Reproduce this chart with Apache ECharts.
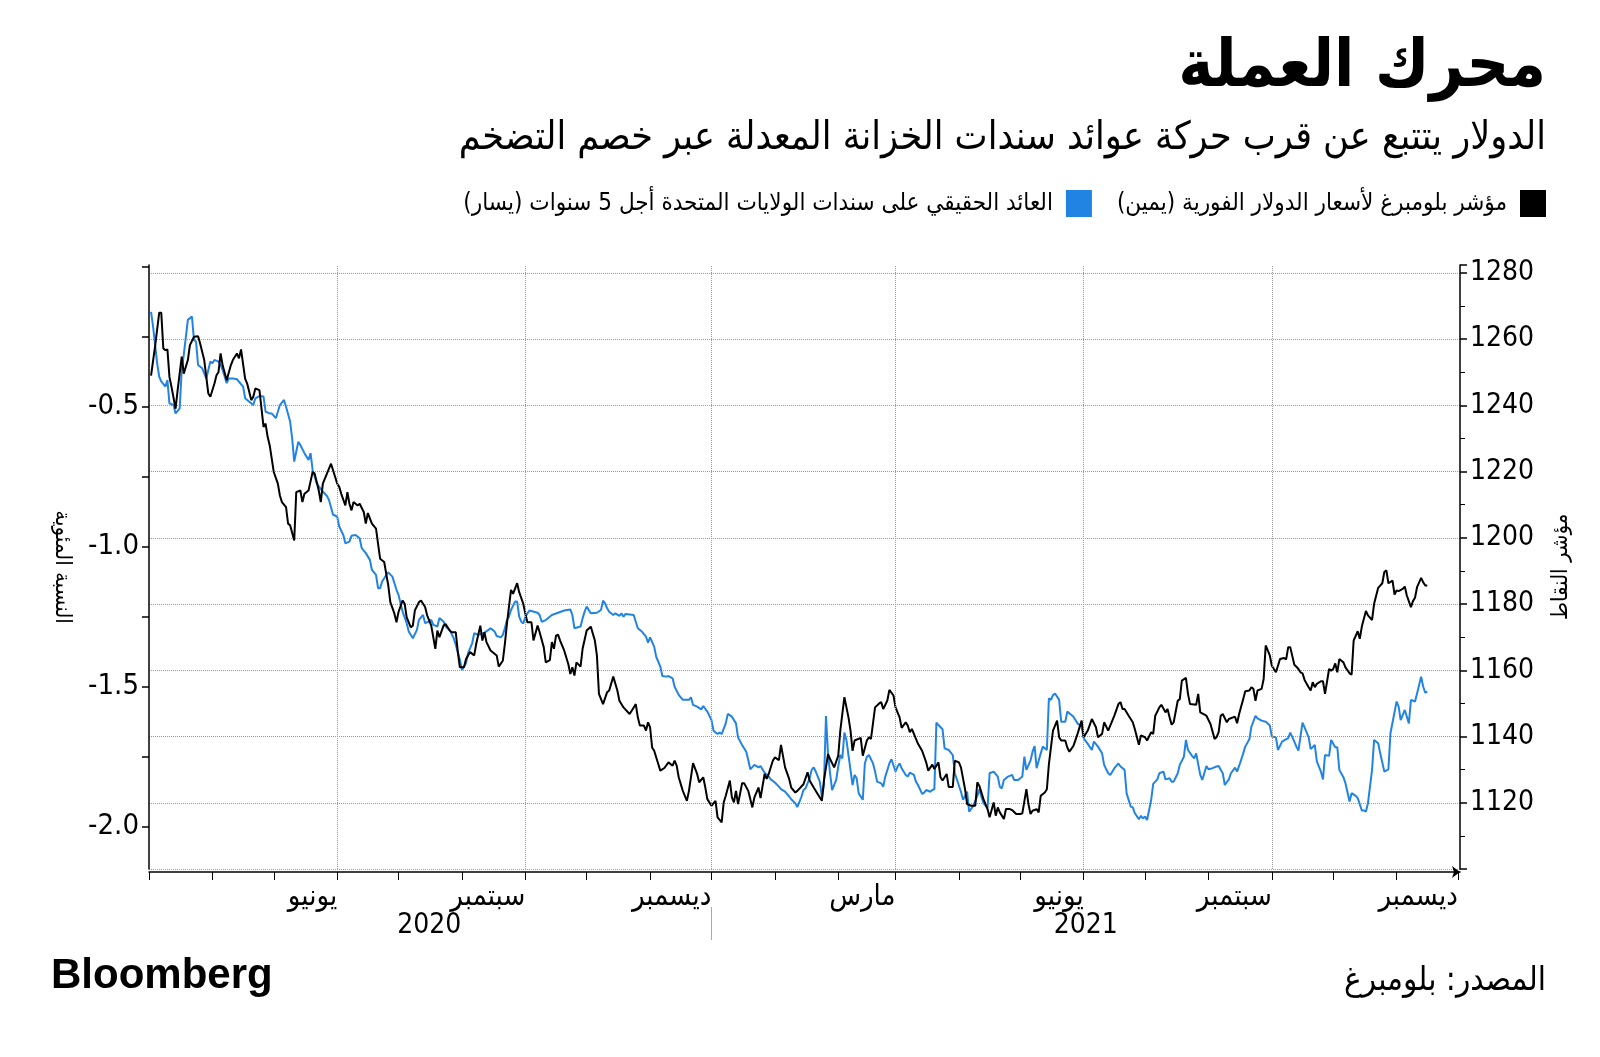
<!DOCTYPE html>
<html lang="ar">
<head>
<meta charset="utf-8">
<title>محرك العملة</title>
<script src="https://cdn.jsdelivr.net/npm/echarts@6/dist/echarts.min.js"></script>
<style>
  html, body { margin: 0; padding: 0; background: #fff; }
  #chart { width: 1600px; height: 1057px; }
</style>
</head>
<body>
<div id="chart"></div>
<script>
// خطوط
var arFont = "'DejaVu Sans Condensed', 'DejaVu Sans', sans-serif";
var RLM = '\u200F';

// النصوص
var chartTitle = 'محرك العملة';
var chartSubtitle = 'الدولار يتتبع عن قرب حركة عوائد سندات الخزانة المعدلة عبر خصم التضخم';
var dollarName = 'مؤشر بلومبرغ لأسعار الدولار الفورية (يمين)';
var yieldName = 'العائد الحقيقي على سندات الولايات المتحدة أجل 5 سنوات (يسار)';
var leftAxisName = 'النسبة المئوية';
var rightAxisName = 'مؤشر النقاط';
var sourceText = 'المصدر: بلومبرغ';

// المحور الأفقي
var xStart = '2020-03-01';
var xEnd = '2021-12-02';
var monthNames = ['يناير', 'فبراير', 'مارس', 'أبريل', 'مايو', 'يونيو', 'يوليو', 'أغسطس', 'سبتمبر', 'أكتوبر', 'نوفمبر', 'ديسمبر'];
var monthTicks = ['2020-03-01', '2020-04-01', '2020-05-01', '2020-06-01', '2020-07-01', '2020-08-01', '2020-09-01',
  '2020-10-01', '2020-11-01', '2020-12-01', '2021-01-01', '2021-02-01', '2021-03-01', '2021-04-01', '2021-05-01',
  '2021-06-01', '2021-07-01', '2021-08-01', '2021-09-01', '2021-10-01', '2021-11-01', '2021-12-01'];
var quarterLabels = ['2020-06-01', '2020-09-01', '2020-12-01', '2021-03-01', '2021-06-01', '2021-09-01', '2021-12-01'];
var gridDates = ['2020-06-01', '2020-09-01', '2020-12-01', '2021-03-01', '2021-06-01', '2021-09-01'];
var yearLabels = ['2020', '2021'];
var yearLabelDates = ['2020-07-16', '2021-06-02'];
var yearSplit = ['2020-12-01'];

// المحاور الرأسية
var leftTicks = [-2, -1.75, -1.5, -1.25, -1, -0.75, -0.5, -0.25, 0];
var leftLabels = [-2, -1.5, -1, -0.5];

// مؤشر بلومبرغ للدولار (يمين)
var dollarIndex = [
  ['2020-03-02', 1249], ['2020-03-04', 1258], ['2020-03-06', 1268], ['2020-03-07', 1268], ['2020-03-08', 1257.2],
  ['2020-03-09', 1256.7], ['2020-03-10', 1256.9], ['2020-03-11', 1248.6], ['2020-03-12', 1245.6], ['2020-03-14', 1239.0],
  ['2020-03-15', 1244.6], ['2020-03-17', 1254.7], ['2020-03-18', 1249.6], ['2020-03-20', 1253.7], ['2020-03-21', 1258.2],
  ['2020-03-23', 1260.7], ['2020-03-25', 1260.9], ['2020-03-26', 1258.7], ['2020-03-28', 1253.7], ['2020-03-29', 1248.6],
  ['2020-03-30', 1243.6], ['2020-03-31', 1242.6], ['2020-04-02', 1246.6], ['2020-04-03', 1249.1], ['2020-04-04', 1250.1],
  ['2020-04-05', 1255.7], ['2020-04-06', 1252.1], ['2020-04-08', 1247.6], ['2020-04-10', 1252.1], ['2020-04-11', 1253.7],
  ['2020-04-13', 1255.7], ['2020-04-14', 1254.2], ['2020-04-15', 1256.9], ['2020-04-17', 1248.1], ['2020-04-18', 1246.6],
  ['2020-04-20', 1241.6], ['2020-04-21', 1242.6], ['2020-04-22', 1245.1], ['2020-04-24', 1244.6], ['2020-04-26', 1233.5],
  ['2020-04-27', 1234.5], ['2020-04-28', 1230.5], ['2020-04-29', 1228.0], ['2020-05-01', 1219.9], ['2020-05-03', 1216.4],
  ['2020-05-04', 1212.8], ['2020-05-05', 1210.8], ['2020-05-07', 1209.3], ['2020-05-08', 1204.3], ['2020-05-09', 1203.8],
  ['2020-05-11', 1199.2], ['2020-05-12', 1213.8], ['2020-05-14', 1214.3], ['2020-05-15', 1210.8], ['2020-05-16', 1213.3],
  ['2020-05-18', 1214.3], ['2020-05-20', 1219.9], ['2020-05-21', 1219.4], ['2020-05-23', 1214.3], ['2020-05-24', 1210.8],
  ['2020-05-25', 1216.4], ['2020-05-26', 1217.9], ['2020-05-28', 1220.9], ['2020-05-29', 1222.4], ['2020-05-30', 1220.4],
  ['2020-06-01', 1216.4], ['2020-06-02', 1215.4], ['2020-06-03', 1213.3], ['2020-06-05', 1209.8], ['2020-06-06', 1213.8],
  ['2020-06-07', 1210.3], ['2020-06-08', 1208.3], ['2020-06-09', 1210.8], ['2020-06-11', 1209.8], ['2020-06-12', 1210.3],
  ['2020-06-14', 1207.8], ['2020-06-15', 1204.3], ['2020-06-16', 1207.5], ['2020-06-18', 1204.3], ['2020-06-20', 1202.8],
  ['2020-06-21', 1198.2], ['2020-06-22', 1193.7], ['2020-06-24', 1192.7], ['2020-06-25', 1189.1], ['2020-06-26', 1185.6],
  ['2020-06-27', 1180.6], ['2020-06-29', 1177.1], ['2020-06-30', 1174.5], ['2020-07-01', 1177.6], ['2020-07-03', 1181.1],
  ['2020-07-04', 1180.1], ['2020-07-05', 1176.0], ['2020-07-07', 1173.0], ['2020-07-08', 1173.5], ['2020-07-09', 1178.1],
  ['2020-07-11', 1180.6], ['2020-07-12', 1181.1], ['2020-07-14', 1179.1], ['2020-07-15', 1176.6], ['2020-07-17', 1173.5],
  ['2020-07-19', 1166.5], ['2020-07-20', 1172.0], ['2020-07-21', 1170.0], ['2020-07-23', 1173.5], ['2020-07-24', 1174.0],
  ['2020-07-26', 1172.0], ['2020-07-27', 1171.5], ['2020-07-29', 1171.5], ['2020-07-30', 1165.5], ['2020-07-31', 1160.9],
  ['2020-08-02', 1160.9], ['2020-08-03', 1163.4], ['2020-08-05', 1165.5], ['2020-08-07', 1164.5], ['2020-08-08', 1168.0],
  ['2020-08-10', 1173.5], ['2020-08-11', 1169.0], ['2020-08-12', 1171.5], ['2020-08-13', 1168.5], ['2020-08-15', 1166.0],
  ['2020-08-18', 1164.5], ['2020-08-19', 1161.1], ['2020-08-21', 1162.9], ['2020-08-22', 1168.0], ['2020-08-23', 1174.0],
  ['2020-08-25', 1184.3], ['2020-08-26', 1183.1], ['2020-08-28', 1186.3], ['2020-08-29', 1183.6], ['2020-08-31', 1180.1],
  ['2020-09-01', 1177.1], ['2020-09-02', 1174.5], ['2020-09-04', 1174.5], ['2020-09-05', 1169.0], ['2020-09-07', 1173.5],
  ['2020-09-08', 1171.5], ['2020-09-10', 1167.0], ['2020-09-11', 1162.4], ['2020-09-13', 1163.1], ['2020-09-14', 1168.5],
  ['2020-09-15', 1166.5], ['2020-09-16', 1170.5], ['2020-09-17', 1170.8], ['2020-09-18', 1169.0], ['2020-09-20', 1166.0],
  ['2020-09-22', 1161.9], ['2020-09-23', 1158.9], ['2020-09-24', 1160.9], ['2020-09-25', 1158.4], ['2020-09-26', 1162.4],
  ['2020-09-28', 1161.1], ['2020-09-29', 1166.5], ['2020-10-01', 1172.0], ['2020-10-03', 1173.2], ['2020-10-05', 1169.0],
  ['2020-10-06', 1164.5], ['2020-10-07', 1152.9], ['2020-10-09', 1149.8], ['2020-10-11', 1153.4], ['2020-10-12', 1153.9],
  ['2020-10-14', 1158.1], ['2020-10-16', 1153.9], ['2020-10-17', 1150.8], ['2020-10-19', 1148.8], ['2020-10-22', 1146.8],
  ['2020-10-24', 1148.8], ['2020-10-25', 1149.8], ['2020-10-26', 1145.8], ['2020-10-27', 1143.3], ['2020-10-29', 1143.3],
  ['2020-10-30', 1141.8], ['2020-10-31', 1144.3], ['2020-11-01', 1142.8], ['2020-11-02', 1136.7], ['2020-11-03', 1135.7],
  ['2020-11-05', 1131.7], ['2020-11-06', 1129.7], ['2020-11-08', 1130.5], ['2020-11-10', 1132.2], ['2020-11-12', 1131.2],
  ['2020-11-13', 1132.7], ['2020-11-14', 1131.2], ['2020-11-15', 1127.7], ['2020-11-17', 1123.6], ['2020-11-19', 1120.6],
  ['2020-11-20', 1123.6], ['2020-11-22', 1132.0], ['2020-11-24', 1128.7], ['2020-11-25', 1126.2], ['2020-11-27', 1127.7],
  ['2020-11-28', 1124.6], ['2020-11-29', 1121.1], ['2020-12-01', 1119.1], ['2020-12-03', 1120.6], ['2020-12-04', 1115.6],
  ['2020-12-06', 1114.1], ['2020-12-07', 1120.1], ['2020-12-08', 1122.1], ['2020-12-10', 1126.7], ['2020-12-11', 1121.6],
  ['2020-12-12', 1120.1], ['2020-12-13', 1123.6], ['2020-12-14', 1119.6], ['2020-12-16', 1125.9], ['2020-12-17', 1125.9],
  ['2020-12-19', 1123.6], ['2020-12-21', 1118.6], ['2020-12-22', 1121.6], ['2020-12-24', 1124.6], ['2020-12-25', 1121.4],
  ['2020-12-27', 1128.7], ['2020-12-28', 1127.2], ['2020-12-29', 1128.7], ['2020-12-31', 1132.7], ['2021-01-01', 1133.7],
  ['2021-01-03', 1132.9], ['2021-01-04', 1137.5], ['2021-01-06', 1130.7], ['2021-01-08', 1127.2], ['2021-01-09', 1124.6],
  ['2021-01-11', 1123.1], ['2021-01-12', 1123.6], ['2021-01-15', 1125.6], ['2021-01-17', 1129.2], ['2021-01-18', 1126.7],
  ['2021-01-20', 1124.6], ['2021-01-22', 1122.6], ['2021-01-24', 1120.6], ['2021-01-25', 1126.7], ['2021-01-27', 1134.7],
  ['2021-01-28', 1133.2], ['2021-01-30', 1130.7], ['2021-02-01', 1134.2], ['2021-02-02', 1141.8], ['2021-02-04', 1151.9],
  ['2021-02-06', 1145.8], ['2021-02-07', 1141.8], ['2021-02-08', 1135.7], ['2021-02-09', 1138.8], ['2021-02-12', 1139.6],
  ['2021-02-13', 1134.2], ['2021-02-15', 1138.8], ['2021-02-16', 1139.8], ['2021-02-17', 1139.3], ['2021-02-19', 1148.8],
  ['2021-02-21', 1150.0], ['2021-02-22', 1150.4], ['2021-02-23', 1148.3], ['2021-02-25', 1150.9], ['2021-02-26', 1154.1],
  ['2021-02-28', 1152.4], ['2021-03-01', 1148.8], ['2021-03-03', 1145.8], ['2021-03-04', 1142.6], ['2021-03-06', 1144.3],
  ['2021-03-07', 1143.3], ['2021-03-08', 1141.3], ['2021-03-09', 1142.3], ['2021-03-10', 1140.8], ['2021-03-12', 1137.8],
  ['2021-03-14', 1135.7], ['2021-03-16', 1132.2], ['2021-03-17', 1129.7], ['2021-03-19', 1131.5], ['2021-03-20', 1130.2],
  ['2021-03-22', 1132.2], ['2021-03-23', 1127.7], ['2021-03-24', 1126.7], ['2021-03-26', 1128.7], ['2021-03-27', 1124.8],
  ['2021-03-29', 1124.8], ['2021-03-30', 1132.7], ['2021-04-01', 1132.2], ['2021-04-02', 1130.7], ['2021-04-04', 1124.1],
  ['2021-04-05', 1119.6], ['2021-04-07', 1119.1], ['2021-04-09', 1119.1], ['2021-04-10', 1126.2], ['2021-04-11', 1125.1],
  ['2021-04-13', 1121.1], ['2021-04-14', 1119.6], ['2021-04-15', 1118.1], ['2021-04-16', 1115.6], ['2021-04-18', 1120.1],
  ['2021-04-19', 1116.1], ['2021-04-20', 1118.6], ['2021-04-21', 1117.1], ['2021-04-23', 1115.1], ['2021-04-24', 1118.1],
  ['2021-04-26', 1118.1], ['2021-04-27', 1117.8], ['2021-04-29', 1116.6], ['2021-05-01', 1116.6], ['2021-05-02', 1116.8],
  ['2021-05-04', 1124.1], ['2021-05-05', 1119.6], ['2021-05-06', 1116.6], ['2021-05-07', 1117.6], ['2021-05-09', 1118.1],
  ['2021-05-10', 1117.1], ['2021-05-11', 1122.1], ['2021-05-13', 1123.1], ['2021-05-14', 1124.1], ['2021-05-15', 1131.7],
  ['2021-05-17', 1141.8], ['2021-05-19', 1144.8], ['2021-05-20', 1139.8], ['2021-05-21', 1138.8], ['2021-05-23', 1138.8],
  ['2021-05-24', 1136.7], ['2021-05-25', 1135.4], ['2021-05-27', 1137.2], ['2021-05-29', 1140.8], ['2021-05-31', 1144.8],
  ['2021-06-01', 1139.8], ['2021-06-03', 1141.8], ['2021-06-05', 1145.3], ['2021-06-07', 1142.8], ['2021-06-08', 1139.8],
  ['2021-06-10', 1140.8], ['2021-06-11', 1144.3], ['2021-06-13', 1141.8], ['2021-06-15', 1144.8], ['2021-06-16', 1146.3],
  ['2021-06-18', 1149.8], ['2021-06-19', 1150.4], ['2021-06-20', 1148.3], ['2021-06-21', 1148.3], ['2021-06-23', 1146.3],
  ['2021-06-25', 1144.3], ['2021-06-26', 1142.3], ['2021-06-28', 1137.5], ['2021-06-29', 1140.3], ['2021-07-01', 1139.8],
  ['2021-07-02', 1138.8], ['2021-07-04', 1141.3], ['2021-07-05', 1140.8], ['2021-07-06', 1146.3], ['2021-07-08', 1148.8],
  ['2021-07-09', 1149.6], ['2021-07-11', 1147.3], ['2021-07-12', 1148.3], ['2021-07-13', 1145.8], ['2021-07-14', 1143.6],
  ['2021-07-15', 1144.3], ['2021-07-17', 1150.8], ['2021-07-18', 1151.3], ['2021-07-19', 1156.9], ['2021-07-21', 1157.7],
  ['2021-07-22', 1152.9], ['2021-07-23', 1149.8], ['2021-07-26', 1149.6], ['2021-07-27', 1152.9], ['2021-07-28', 1147.3],
  ['2021-07-31', 1146.3], ['2021-08-02', 1143.8], ['2021-08-04', 1139.3], ['2021-08-05', 1139.8], ['2021-08-06', 1141.3],
  ['2021-08-07', 1146.3], ['2021-08-08', 1146.8], ['2021-08-10', 1144.3], ['2021-08-11', 1145.3], ['2021-08-14', 1146.0],
  ['2021-08-15', 1144.0], ['2021-08-16', 1146.8], ['2021-08-18', 1151.3], ['2021-08-19', 1153.7], ['2021-08-21', 1153.9],
  ['2021-08-22', 1154.9], ['2021-08-23', 1154.4], ['2021-08-24', 1150.8], ['2021-08-25', 1153.9], ['2021-08-27', 1154.4],
  ['2021-08-28', 1157.4], ['2021-08-29', 1167.5], ['2021-08-31', 1164.5], ['2021-09-01', 1161.4], ['2021-09-03', 1159.4],
  ['2021-09-04', 1161.4], ['2021-09-05', 1163.4], ['2021-09-07', 1163.7], ['2021-09-08', 1163.3], ['2021-09-09', 1167.0],
  ['2021-09-10', 1167.0], ['2021-09-12', 1161.7], ['2021-09-13', 1161.1], ['2021-09-14', 1160.4], ['2021-09-15', 1159.4],
  ['2021-09-16', 1159.1], ['2021-09-17', 1157.1], ['2021-09-19', 1154.9], ['2021-09-20', 1153.9], ['2021-09-21', 1156.4],
  ['2021-09-22', 1154.9], ['2021-09-23', 1155.9], ['2021-09-25', 1156.7], ['2021-09-26', 1156.7], ['2021-09-27', 1152.9],
  ['2021-09-29', 1160.4], ['2021-09-30', 1159.9], ['2021-10-01', 1160.4], ['2021-10-02', 1162.1], ['2021-10-03', 1159.4],
  ['2021-10-04', 1163.4], ['2021-10-06', 1162.4], ['2021-10-07', 1160.9], ['2021-10-09', 1159.1], ['2021-10-10', 1158.7],
  ['2021-10-11', 1169.0], ['2021-10-13', 1171.8], ['2021-10-14', 1169.5], ['2021-10-15', 1173.2], ['2021-10-17', 1177.9],
  ['2021-10-18', 1176.6], ['2021-10-20', 1175.2], ['2021-10-21', 1180.1], ['2021-10-23', 1184.9], ['2021-10-24', 1185.6],
  ['2021-10-25', 1186.3], ['2021-10-26', 1189.7], ['2021-10-27', 1190.2], ['2021-10-28', 1186.3], ['2021-10-30', 1187.1],
  ['2021-10-31', 1182.9], ['2021-11-01', 1184.1], ['2021-11-02', 1183.9], ['2021-11-04', 1184.6], ['2021-11-05', 1185.3],
  ['2021-11-06', 1182.6], ['2021-11-08', 1179.1], ['2021-11-09', 1180.9], ['2021-11-10', 1181.9], ['2021-11-11', 1185.1],
  ['2021-11-13', 1187.9], ['2021-11-14', 1186.6], ['2021-11-15', 1185.6], ['2021-11-16', 1185.6]
];

// العائد الحقيقي لسندات 5 سنوات (يسار)
var realYield5y = [
  ['2020-03-02', -0.161], ['2020-03-03', -0.214], ['2020-03-05', -0.345], ['2020-03-06', -0.393], ['2020-03-07', -0.410],
  ['2020-03-09', -0.428], ['2020-03-10', -0.405], ['2020-03-11', -0.488], ['2020-03-13', -0.494], ['2020-03-14', -0.524],
  ['2020-03-16', -0.506], ['2020-03-17', -0.369], ['2020-03-18', -0.315], ['2020-03-20', -0.190], ['2020-03-22', -0.178],
  ['2020-03-23', -0.262], ['2020-03-24', -0.268], ['2020-03-25', -0.351], ['2020-03-27', -0.363], ['2020-03-29', -0.399],
  ['2020-03-31', -0.339], ['2020-04-01', -0.345], ['2020-04-02', -0.333], ['2020-04-04', -0.339], ['2020-04-05', -0.351],
  ['2020-04-06', -0.369], ['2020-04-08', -0.416], ['2020-04-09', -0.399], ['2020-04-11', -0.399], ['2020-04-13', -0.402],
  ['2020-04-16', -0.428], ['2020-04-17', -0.470], ['2020-04-19', -0.482], ['2020-04-21', -0.494], ['2020-04-22', -0.470],
  ['2020-04-24', -0.462], ['2020-04-26', -0.464], ['2020-04-27', -0.518], ['2020-04-29', -0.524], ['2020-04-30', -0.524],
  ['2020-05-02', -0.541], ['2020-05-03', -0.518], ['2020-05-04', -0.494], ['2020-05-06', -0.476], ['2020-05-07', -0.500],
  ['2020-05-09', -0.553], ['2020-05-10', -0.613], ['2020-05-11', -0.696], ['2020-05-13', -0.625], ['2020-05-14', -0.637],
  ['2020-05-16', -0.666], ['2020-05-18', -0.690], ['2020-05-19', -0.666], ['2020-05-20', -0.726], ['2020-05-22', -0.773],
  ['2020-05-23', -0.785], ['2020-05-25', -0.803], ['2020-05-27', -0.819], ['2020-05-28', -0.833], ['2020-05-30', -0.886],
  ['2020-06-01', -0.892], ['2020-06-02', -0.928], ['2020-06-04', -0.958], ['2020-06-05', -0.988], ['2020-06-07', -0.982],
  ['2020-06-08', -0.961], ['2020-06-10', -0.958], ['2020-06-12', -0.970], ['2020-06-13', -1.005], ['2020-06-15', -1.023],
  ['2020-06-17', -1.047], ['2020-06-18', -1.083], ['2020-06-20', -1.101], ['2020-06-21', -1.148], ['2020-06-22', -1.148],
  ['2020-06-23', -1.124], ['2020-06-25', -1.101], ['2020-06-26', -1.092], ['2020-06-28', -1.107], ['2020-06-30', -1.154],
  ['2020-07-01', -1.172], ['2020-07-03', -1.232], ['2020-07-05', -1.273], ['2020-07-06', -1.303], ['2020-07-08', -1.327],
  ['2020-07-10', -1.297], ['2020-07-11', -1.261], ['2020-07-13', -1.244], ['2020-07-14', -1.273], ['2020-07-16', -1.267],
  ['2020-07-17', -1.261], ['2020-07-18', -1.279], ['2020-07-20', -1.285], ['2020-07-21', -1.255], ['2020-07-23', -1.267],
  ['2020-07-24', -1.285], ['2020-07-26', -1.297], ['2020-07-28', -1.327], ['2020-07-29', -1.351], ['2020-07-31', -1.404],
  ['2020-08-01', -1.440], ['2020-08-03', -1.416], ['2020-08-04', -1.380], ['2020-08-06', -1.345], ['2020-08-07', -1.309],
  ['2020-08-09', -1.315], ['2020-08-12', -1.307], ['2020-08-14', -1.297], ['2020-08-15', -1.291], ['2020-08-17', -1.303],
  ['2020-08-18', -1.319], ['2020-08-20', -1.324], ['2020-08-21', -1.315], ['2020-08-22', -1.291], ['2020-08-23', -1.262],
  ['2020-08-24', -1.250], ['2020-08-25', -1.226], ['2020-08-27', -1.196], ['2020-08-28', -1.196], ['2020-08-29', -1.250],
  ['2020-08-30', -1.268], ['2020-08-31', -1.274], ['2020-09-01', -1.252], ['2020-09-02', -1.238], ['2020-09-03', -1.228],
  ['2020-09-07', -1.236], ['2020-09-08', -1.244], ['2020-09-09', -1.268], ['2020-09-11', -1.262], ['2020-09-14', -1.244],
  ['2020-09-17', -1.236], ['2020-09-20', -1.228], ['2020-09-23', -1.224], ['2020-09-24', -1.244], ['2020-09-25', -1.291],
  ['2020-09-28', -1.285], ['2020-09-29', -1.256], ['2020-09-30', -1.232], ['2020-10-01', -1.214], ['2020-10-03', -1.238],
  ['2020-10-06', -1.236], ['2020-10-08', -1.226], ['2020-10-09', -1.193], ['2020-10-10', -1.202], ['2020-10-11', -1.220],
  ['2020-10-12', -1.232], ['2020-10-14', -1.244], ['2020-10-15', -1.238], ['2020-10-17', -1.247], ['2020-10-18', -1.238],
  ['2020-10-19', -1.250], ['2020-10-20', -1.240], ['2020-10-24', -1.244], ['2020-10-25', -1.268], ['2020-10-26', -1.291],
  ['2020-10-28', -1.303], ['2020-10-30', -1.321], ['2020-10-31', -1.343], ['2020-11-01', -1.324], ['2020-11-03', -1.357],
  ['2020-11-04', -1.393], ['2020-11-06', -1.428], ['2020-11-07', -1.462], ['2020-11-09', -1.464], ['2020-11-10', -1.462],
  ['2020-11-12', -1.470], ['2020-11-13', -1.500], ['2020-11-15', -1.529], ['2020-11-17', -1.547], ['2020-11-20', -1.547],
  ['2020-11-21', -1.538], ['2020-11-22', -1.565], ['2020-11-24', -1.571], ['2020-11-26', -1.581], ['2020-11-27', -1.569],
  ['2020-11-29', -1.589], ['2020-12-01', -1.619], ['2020-12-02', -1.657], ['2020-12-04', -1.669], ['2020-12-05', -1.664],
  ['2020-12-06', -1.669], ['2020-12-08', -1.631], ['2020-12-09', -1.597], ['2020-12-11', -1.607], ['2020-12-13', -1.631],
  ['2020-12-14', -1.681], ['2020-12-16', -1.708], ['2020-12-18', -1.732], ['2020-12-19', -1.762], ['2020-12-20', -1.795],
  ['2020-12-22', -1.779], ['2020-12-24', -1.788], ['2020-12-25', -1.783], ['2020-12-27', -1.807], ['2020-12-29', -1.821],
  ['2020-12-30', -1.831], ['2021-01-01', -1.842], ['2021-01-03', -1.857], ['2021-01-04', -1.866], ['2021-01-06', -1.875],
  ['2021-01-08', -1.892], ['2021-01-09', -1.902], ['2021-01-11', -1.916], ['2021-01-12', -1.930], ['2021-01-14', -1.893],
  ['2021-01-15', -1.869], ['2021-01-16', -1.863], ['2021-01-18', -1.827], ['2021-01-19', -1.797], ['2021-01-20', -1.788],
  ['2021-01-21', -1.803], ['2021-01-23', -1.839], ['2021-01-24', -1.893], ['2021-01-25', -1.851], ['2021-01-26', -1.605],
  ['2021-01-27', -1.738], ['2021-01-28', -1.809], ['2021-01-29', -1.869], ['2021-01-31', -1.833], ['2021-02-01', -1.785],
  ['2021-02-02', -1.744], ['2021-02-03', -1.756], ['2021-02-04', -1.664], ['2021-02-05', -1.690], ['2021-02-06', -1.744],
  ['2021-02-08', -1.851], ['2021-02-09', -1.815], ['2021-02-10', -1.827], ['2021-02-11', -1.881], ['2021-02-13', -1.904],
  ['2021-02-14', -1.774], ['2021-02-15', -1.750], ['2021-02-16', -1.744], ['2021-02-18', -1.774], ['2021-02-19', -1.803],
  ['2021-02-20', -1.839], ['2021-02-22', -1.845], ['2021-02-23', -1.857], ['2021-02-24', -1.821], ['2021-02-26', -1.774],
  ['2021-02-27', -1.759], ['2021-03-01', -1.803], ['2021-03-02', -1.785], ['2021-03-03', -1.774], ['2021-03-04', -1.791],
  ['2021-03-06', -1.815], ['2021-03-07', -1.821], ['2021-03-08', -1.807], ['2021-03-10', -1.815], ['2021-03-11', -1.839],
  ['2021-03-12', -1.851], ['2021-03-14', -1.883], ['2021-03-15', -1.878], ['2021-03-16', -1.869], ['2021-03-18', -1.875],
  ['2021-03-19', -1.869], ['2021-03-20', -1.866], ['2021-03-21', -1.628], ['2021-03-22', -1.637], ['2021-03-24', -1.652],
  ['2021-03-25', -1.720], ['2021-03-27', -1.726], ['2021-03-29', -1.744], ['2021-03-30', -1.809], ['2021-04-02', -1.875],
  ['2021-04-03', -1.904], ['2021-04-05', -1.875], ['2021-04-06', -1.946], ['2021-04-08', -1.926], ['2021-04-10', -1.890],
  ['2021-04-11', -1.866], ['2021-04-12', -1.893], ['2021-04-13', -1.916], ['2021-04-15', -1.934], ['2021-04-16', -1.809],
  ['2021-04-18', -1.803], ['2021-04-20', -1.821], ['2021-04-21', -1.857], ['2021-04-22', -1.863], ['2021-04-23', -1.833],
  ['2021-04-25', -1.821], ['2021-04-27', -1.815], ['2021-04-28', -1.833], ['2021-04-30', -1.833], ['2021-05-02', -1.821],
  ['2021-05-03', -1.750], ['2021-05-04', -1.797], ['2021-05-06', -1.764], ['2021-05-07', -1.732], ['2021-05-08', -1.712],
  ['2021-05-09', -1.791], ['2021-05-11', -1.738], ['2021-05-12', -1.714], ['2021-05-14', -1.726], ['2021-05-15', -1.541],
  ['2021-05-16', -1.547], ['2021-05-17', -1.530], ['2021-05-18', -1.524], ['2021-05-20', -1.547], ['2021-05-21', -1.625],
  ['2021-05-23', -1.625], ['2021-05-24', -1.589], ['2021-05-26', -1.601], ['2021-05-27', -1.607], ['2021-05-29', -1.631],
  ['2021-05-31', -1.643], ['2021-06-01', -1.684], ['2021-06-03', -1.704], ['2021-06-05', -1.726], ['2021-06-06', -1.696],
  ['2021-06-08', -1.714], ['2021-06-10', -1.738], ['2021-06-11', -1.779], ['2021-06-13', -1.809], ['2021-06-14', -1.815],
  ['2021-06-16', -1.791], ['2021-06-18', -1.774], ['2021-06-19', -1.785], ['2021-06-21', -1.797], ['2021-06-22', -1.881],
  ['2021-06-24', -1.928], ['2021-06-25', -1.931], ['2021-06-26', -1.952], ['2021-06-28', -1.973], ['2021-06-29', -1.961],
  ['2021-06-30', -1.970], ['2021-07-01', -1.964], ['2021-07-02', -1.976], ['2021-07-04', -1.904], ['2021-07-05', -1.847],
  ['2021-07-07', -1.831], ['2021-07-08', -1.809], ['2021-07-10', -1.803], ['2021-07-11', -1.831], ['2021-07-13', -1.827],
  ['2021-07-14', -1.839], ['2021-07-15', -1.839], ['2021-07-17', -1.809], ['2021-07-18', -1.779], ['2021-07-20', -1.750],
  ['2021-07-21', -1.690], ['2021-07-22', -1.726], ['2021-07-24', -1.747], ['2021-07-25', -1.756], ['2021-07-26', -1.738],
  ['2021-07-28', -1.815], ['2021-07-29', -1.833], ['2021-07-31', -1.783], ['2021-08-01', -1.795], ['2021-08-03', -1.791],
  ['2021-08-05', -1.785], ['2021-08-06', -1.783], ['2021-08-08', -1.809], ['2021-08-09', -1.851], ['2021-08-11', -1.831],
  ['2021-08-12', -1.809], ['2021-08-14', -1.789], ['2021-08-15', -1.803], ['2021-08-16', -1.783], ['2021-08-18', -1.738],
  ['2021-08-19', -1.714], ['2021-08-21', -1.688], ['2021-08-22', -1.643], ['2021-08-24', -1.604], ['2021-08-25', -1.613],
  ['2021-08-27', -1.621], ['2021-08-29', -1.625], ['2021-08-31', -1.638], ['2021-09-01', -1.678], ['2021-09-03', -1.681],
  ['2021-09-04', -1.726], ['2021-09-06', -1.696], ['2021-09-07', -1.692], ['2021-09-09', -1.684], ['2021-09-10', -1.664],
  ['2021-09-12', -1.696], ['2021-09-13', -1.714], ['2021-09-14', -1.728], ['2021-09-16', -1.628], ['2021-09-17', -1.645],
  ['2021-09-19', -1.681], ['2021-09-20', -1.723], ['2021-09-22', -1.708], ['2021-09-23', -1.767], ['2021-09-25', -1.803],
  ['2021-09-26', -1.831], ['2021-09-27', -1.744], ['2021-09-29', -1.747], ['2021-09-30', -1.690], ['2021-10-02', -1.716],
  ['2021-10-03', -1.716], ['2021-10-04', -1.797], ['2021-10-06', -1.823], ['2021-10-07', -1.845], ['2021-10-09', -1.910],
  ['2021-10-10', -1.880], ['2021-10-12', -1.890], ['2021-10-13', -1.898], ['2021-10-15', -1.942], ['2021-10-16', -1.942],
  ['2021-10-17', -1.946], ['2021-10-18', -1.916], ['2021-10-20', -1.797], ['2021-10-21', -1.690], ['2021-10-23', -1.702],
  ['2021-10-24', -1.738], ['2021-10-26', -1.803], ['2021-10-28', -1.795], ['2021-10-29', -1.666], ['2021-11-01', -1.553],
  ['2021-11-02', -1.571], ['2021-11-03', -1.619], ['2021-11-05', -1.583], ['2021-11-07', -1.631], ['2021-11-08', -1.547],
  ['2021-11-10', -1.553], ['2021-11-11', -1.524], ['2021-11-13', -1.464], ['2021-11-14', -1.500], ['2021-11-15', -1.521],
  ['2021-11-16', -1.518]
];

// تحويل التاريخ إلى قيمة زمنية للمحور
function ts(d) { return +echarts.time.parse(d); }
function toPoints(rows) { return rows.map(function (r) { return [ts(r[0]), r[1]]; }); }

var chart = echarts.init(document.getElementById('chart'));

var option = {
  backgroundColor: '#fff',
  animation: false,
  title: [
    { text: chartTitle, right: 54, top: 36, padding: 0,
      textStyle: { fontFamily: arFont, fontSize: 66, fontWeight: 'bold', color: '#000' } },
    { text: chartSubtitle, right: 54, top: 119, padding: 0,
      textStyle: { fontFamily: arFont, fontSize: 39, fontWeight: 'normal', color: '#000' } },
    { text: sourceText, right: 54, top: 965, padding: 0,
      textStyle: { fontFamily: arFont, fontSize: 33, fontWeight: 'normal', color: '#000' } },
    { text: 'Bloomberg', left: 51, top: 955, padding: 0,
      textStyle: { fontFamily: "'Liberation Sans', Arial, sans-serif", fontSize: 42, fontWeight: 'bold', color: '#000' } }
  ],
  legend: {
    right: 54, top: 190, padding: 0,
    itemWidth: 26, itemHeight: 27, itemGap: 25,
    align: 'right', icon: 'rect', selectedMode: false,
    textStyle: { fontFamily: arFont, fontSize: 24, color: '#000', padding: [0, 8, 0, 0] },
    data: [RLM + yieldName + RLM, RLM + dollarName + RLM]
  },
  grid: { left: 149, right: 140, top: 265, height: 604 },
  xAxis: [
    {
      type: 'value', min: ts(xStart), max: ts(xEnd), position: 'bottom', offset: 3,
      axisLine: { show: true, onZero: false, lineStyle: { color: '#000', width: 1.5 }, symbol: ['none', 'arrow'], symbolSize: [9, 8] },
      axisTick: { show: true, length: 8, lineStyle: { color: '#000', width: 1 }, customValues: monthTicks.map(ts) },
      axisLabel: {
        customValues: quarterLabels.map(ts), align: 'right', margin: 11,
        fontFamily: arFont, fontSize: 29, color: '#000',
        formatter: function (v) { return monthNames[new Date(v).getMonth()]; }
      },
      splitLine: { show: false }
    },
    {
      type: 'value', min: ts(xStart), max: ts(xEnd), position: 'bottom', offset: 38,
      axisLine: { show: false, onZero: false },
      axisTick: { show: true, length: 33, lineStyle: { color: '#aaa', width: 1 }, customValues: yearSplit.map(ts) },
      axisLabel: {
        customValues: yearLabelDates.map(ts), align: 'center', margin: 5,
        fontFamily: arFont, fontSize: 28, color: '#000',
        formatter: function (v) { return yearLabels[yearLabelDates.map(ts).indexOf(v)] || ''; }
      },
      splitLine: { show: false }
    }
  ],
  yAxis: [
    {
      type: 'value', position: 'left', min: -2.151, max: 0.006,
      name: leftAxisName, nameLocation: 'middle', nameRotate: -90, nameGap: 76,
      nameTextStyle: { fontFamily: arFont, fontSize: 22, color: '#000' },
      axisLine: { show: true, onZero: false, lineStyle: { color: '#000', width: 1.5 } },
      axisTick: { show: true, length: 7, lineStyle: { color: '#000', width: 1.5 }, customValues: leftTicks },
      axisLabel: {
        customValues: leftLabels, margin: 10, fontFamily: arFont, fontSize: 29, color: '#000',
        formatter: function (v) { return v.toFixed(1); }
      },
      splitLine: { show: false }
    },
    {
      type: 'value', position: 'right', min: 1100, max: 1282.4, interval: 20,
      name: rightAxisName, nameLocation: 'middle', nameRotate: 90, nameGap: 90,
      nameTextStyle: { fontFamily: arFont, fontSize: 22, color: '#000' },
      axisLine: { show: true, onZero: false, lineStyle: { color: '#000', width: 1.5 } },
      axisTick: { show: true, length: 7, lineStyle: { color: '#000', width: 1.5 } },
      minorTick: { show: true, splitNumber: 2, length: 5, lineStyle: { color: '#000', width: 1 } },
      axisLabel: {
        margin: 10, fontFamily: arFont, fontSize: 28, color: '#000',
        formatter: function (v) { return (v > 1100 && v <= 1280 && v % 20 === 0) ? String(v) : ''; }
      },
      splitLine: { show: true, showMaxLine: false, lineStyle: { color: '#9a9a9a', type: 'dotted', width: 1 } }
    }
  ],
  series: [
    {
      name: RLM + yieldName + RLM, type: 'line', xAxisIndex: 0, yAxisIndex: 0,
      data: toPoints(realYield5y), showSymbol: false, symbol: 'none',
      lineStyle: { color: '#2284e2', width: 2 }, itemStyle: { color: '#2284e2' },
      emphasis: { disabled: true },
      markLine: {
        silent: true, symbol: 'none', label: { show: false },
        lineStyle: { color: '#9a9a9a', type: 'dotted', width: 1 },
        emphasis: { disabled: true },
        data: gridDates.map(function (d) { return { xAxis: ts(d) }; })
      }
    },
    {
      name: RLM + dollarName + RLM, type: 'line', xAxisIndex: 0, yAxisIndex: 1,
      data: toPoints(dollarIndex), showSymbol: false, symbol: 'none',
      lineStyle: { color: '#000', width: 2 }, itemStyle: { color: '#000' },
      emphasis: { disabled: true }
    }
  ]
};

chart.setOption(option);
</script>
</body>
</html>
